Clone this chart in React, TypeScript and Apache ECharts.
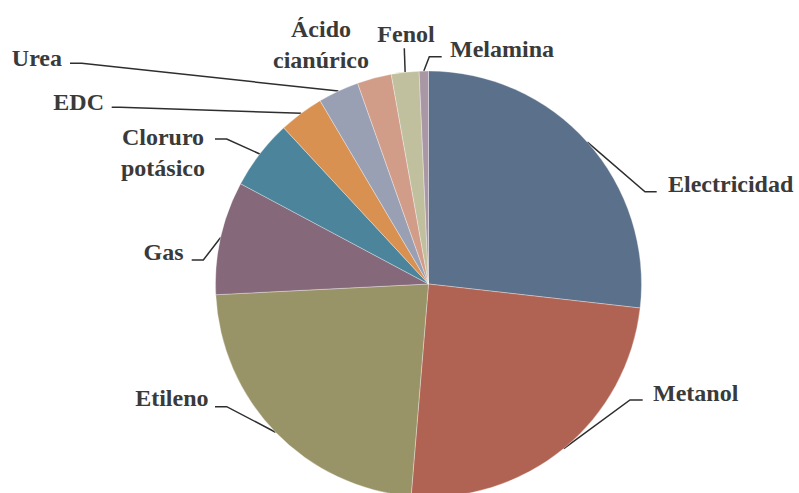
import { useEffect, useRef } from "react";
import * as echarts from "echarts";

const categories = [
  "Electricidad",
  "Metanol",
  "Etileno",
  "Gas",
  "Cloruro potásico",
  "EDC",
  "Urea",
  "Ácido cianúrico",
  "Fenol",
  "Melamina",
];
const labelTexts = [
  "Electricidad",
  "Metanol",
  "Etileno",
  "Gas",
  "Cloruro\npotásico",
  "EDC",
  "Urea",
  "Ácido\ncianúrico",
  "Fenol",
  "Melamina",
];
const shares = [26.8, 24.5, 22.9, 8.6, 5.3, 3.4, 3.1, 2.6, 2.1, 0.7];

const colors = [
  "#5b718b",
  "#b06352",
  "#999467",
  "#86687b",
  "#4b849b",
  "#d99152",
  "#9aa0b4",
  "#d19c88",
  "#c0bf9e",
  "#a997a6",
];

type Placement = {
  x: number;
  y: number;
  align: "left" | "right" | "center";
  line: number[][] | null;
};

const placements: Placement[] = [
  { x: 668, y: 184, align: "left", line: [[645, 191.7], [656.7, 191.7]] },
  { x: 653, y: 393, align: "left", line: [[630, 400], [642.7, 400]] },
  { x: 208.5, y: 398, align: "right", line: [[226.7, 406.7], [215, 406.7]] },
  { x: 183.5, y: 252, align: "right", line: [[203.3, 260], [191.7, 260]] },
  { x: 163, y: 152, align: "center", line: [[226.7, 139], [215, 139]] },
  { x: 104, y: 102, align: "right", line: [[120, 107.3], [111.7, 107.3]] },
  { x: 62, y: 58, align: "right", line: [[81.7, 63.3], [70, 63.3]] },
  { x: 321, y: 44, align: "center", line: null },
  { x: 406, y: 34, align: "center", line: [[404.3, 48.3], [404.3, 48.3]] },
  { x: 450, y: 48.5, align: "left", line: [[429.3, 56.7], [441.7, 56.7]] },
];

export default function App() {
  const ref = useRef<HTMLDivElement>(null);

  useEffect(() => {
    if (!ref.current) return;
    const chart = echarts.init(ref.current, null, { renderer: "svg" });
    const data = categories.map((name, i) => ({
      name,
      value: shares[i],
      itemStyle: { color: colors[i] },
      labelLine: { show: placements[i].line !== null },
    }));
    chart.setOption({
      animation: false,
      backgroundColor: "#ffffff",
      textStyle: { fontFamily: "Liberation Serif" },
      series: [
        {
          type: "pie",
          center: [428.5, 284],
          radius: 213,
          startAngle: 90,
          clockwise: true,
          avoidLabelOverlap: false,
          data,
          itemStyle: {
            borderColor: "rgba(255,255,255,0.55)",
            borderWidth: 0.6,
          },
          label: {
            show: true,
            position: "outside",
            formatter: (p: any) => labelTexts[p.dataIndex],
            fontFamily: "Liberation Serif",
            fontWeight: "bold",
            fontSize: 24,
            lineHeight: 31,
            color: "#3a3a3a",
          },
          labelLine: {
            show: true,
            lineStyle: { color: "#2e2e2e", width: 1.5 },
          },
          emphasis: { disabled: true },
          labelLayout: (params: any) => {
            const pl = placements[params.dataIndex];
            const out: any = {
              x: pl.x,
              y: pl.y,
              align: pl.align,
              verticalAlign: "middle",
            };
            if (pl.line && params.labelLinePoints) {
              const start = params.labelLinePoints[0];
              out.labelLinePoints = [
                [start[0], start[1]],
                pl.line[0],
                pl.line[1],
              ];
            }
            return out;
          },
        },
      ],
    });
    return () => chart.dispose();
  }, []);

  return (
    <div
      ref={ref}
      style={{ position: "absolute", left: 0, top: 0, width: 799, height: 493 }}
    />
  );
}
